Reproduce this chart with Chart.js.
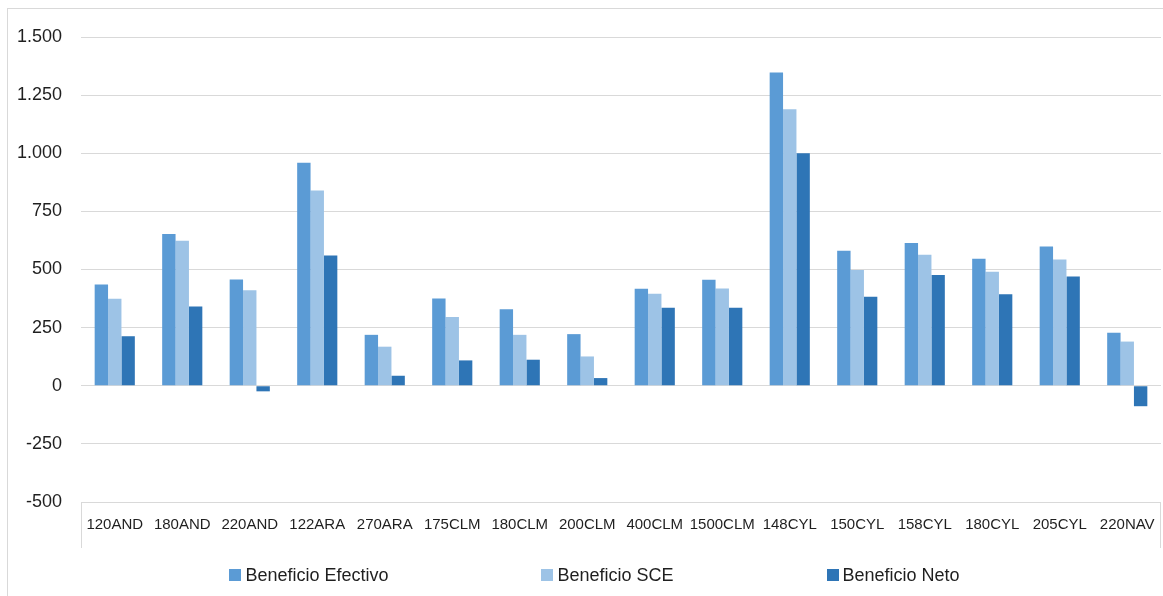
<!DOCTYPE html>
<html>
<head>
<meta charset="utf-8">
<script src="https://cdn.jsdelivr.net/npm/chart.js@4/dist/chart.umd.min.js"></script>
<style>
  html, body { margin: 0; padding: 0; background: #fff; }
  #wrap { width: 1163px; height: 596px; position: relative; }
</style>
</head>
<body>
<div id="wrap"><canvas id="c" width="1163" height="596"></canvas></div>
<script>
const categories = ["120AND","180AND","220AND","122ARA","270ARA","175CLM","180CLM","200CLM","400CLM","1500CLM","148CYL","150CYL","158CYL","180CYL","205CYL","220NAV"];
const beneficioEfectivo = [435, 653, 457, 959, 219, 375, 329, 222, 417, 456, 1347, 581, 614, 546, 599, 228];
const beneficioSCE      = [374, 624, 411, 840, 168, 296, 219, 126, 396, 418, 1189, 498, 563, 490, 543, 190];
const beneficioNeto     = [213, 341, -24, 560, 43, 109, 112, 33, 335, 335, 1000, 383, 476, 394, 470, -88];
const seriesNames = ["Beneficio Efectivo", "Beneficio SCE", "Beneficio Neto"];
const yMin = -500, yMax = 1500, yStep = 250;

const FONT = "'Liberation Sans', Arial, sans-serif";
const TEXT = "#1f1f1f";
const GRID = "#D9D9D9";

function fmt(v) {
  const neg = v < 0;
  const s = String(Math.abs(v)).replace(/\B(?=(\d{3})+(?!\d))/g, ".");
  return (neg ? "-" : "") + s;
}

const framePlugin = {
  id: "frame",
  beforeDraw(chart) {
    const ctx = chart.ctx;
    ctx.save();
    ctx.fillStyle = "#fff";
    ctx.fillRect(0, 0, chart.width, chart.height);
    ctx.strokeStyle = GRID;
    ctx.lineWidth = 1;
    ctx.strokeRect(7.5, 8.5, chart.width + 20, chart.height + 20);
    ctx.restore();
  },
  afterDraw(chart) {
    const ctx = chart.ctx;
    const xs = chart.scales.x;
    ctx.save();
    ctx.strokeStyle = GRID;
    ctx.lineWidth = 1;
    ctx.beginPath();
    ctx.moveTo(Math.round(xs.left) + 0.5, xs.top);
    ctx.lineTo(Math.round(xs.left) + 0.5, xs.bottom);
    ctx.moveTo(Math.round(xs.right) - 0.5, xs.top);
    ctx.lineTo(Math.round(xs.right) - 0.5, xs.bottom);
    ctx.stroke();

    // legend
    const ds = chart.data.datasets;
    ctx.font = "18px " + FONT;
    ctx.textBaseline = "middle";
    ctx.textAlign = "left";
    const box = 12, gapText = 4, gapItem = 153;
    const widths = ds.map(d => box + gapText + ctx.measureText(d.label).width);
    const total = widths.reduce((a, b) => a + b, 0) + gapItem * (ds.length - 1);
    let x = 594.5 - total / 2;
    const y = 575;
    ds.forEach((d, i) => {
      ctx.fillStyle = d.backgroundColor;
      ctx.fillRect(Math.round(x), y - box / 2, box, box);
      ctx.fillStyle = TEXT;
      ctx.fillText(d.label, x + box + gapText, y + 1);
      x += widths[i] + gapItem;
    });
    ctx.restore();
  }
};

new Chart(document.getElementById("c"), {
  type: "bar",
  data: {
    labels: categories,
    datasets: [
      { label: seriesNames[0], data: beneficioEfectivo, backgroundColor: "#5B9BD5" },
      { label: seriesNames[1], data: beneficioSCE, backgroundColor: "#9DC3E6" },
      { label: seriesNames[2], data: beneficioNeto, backgroundColor: "#2E75B6" }
    ]
  },
  options: {
    responsive: false,
    animation: false,
    devicePixelRatio: 1,
    layout: { padding: { left: 0, right: 2, top: 37, bottom: 48 } },
    datasets: { bar: { categoryPercentage: 0.595, barPercentage: 1.0, borderWidth: 0 } },
    plugins: {
      legend: { display: false },
      tooltip: { enabled: false }
    },
    scales: {
      x: {
        grid: { display: false, drawTicks: false },
        border: { display: false },
        ticks: { color: TEXT, font: { family: FONT, size: 15, lineHeight: 3.07 }, padding: 0, maxRotation: 0, autoSkip: false },
        afterFit(scale) { scale.height = 46; }
      },
      y: {
        min: yMin, max: yMax,
        border: { display: false },
        grid: { color: GRID, lineWidth: 1, drawTicks: false },
        ticks: { stepSize: yStep, color: TEXT, font: { family: FONT, size: 18 }, padding: 19, callback: v => fmt(v) },
        afterFit(scale) { scale.width = 81; }
      }
    }
  },
  plugins: [framePlugin]
});
</script>
</body>
</html>
